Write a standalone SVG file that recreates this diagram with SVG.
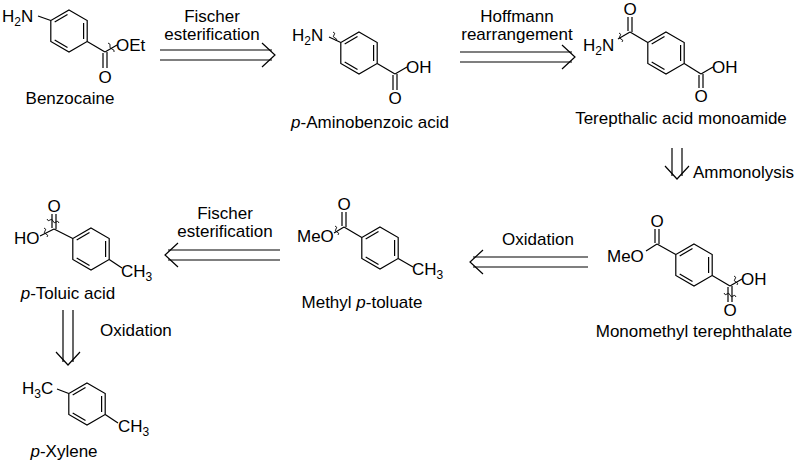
<svg xmlns="http://www.w3.org/2000/svg" width="807" height="468" viewBox="0 0 807 468">
<style>
text{font-family:"Liberation Sans",Arial,sans-serif;fill:#000}
.l{font-size:17px;text-anchor:middle}
.a{font-size:17px}
.c{text-anchor:middle}
.s{font-size:12px}
line,path,polyline{stroke:#000;stroke-width:1.2;fill:none}
.w{stroke-width:0.9}
</style>
<defs>
<g id="ring">
<polygon points="0,-21 18.2,-10.5 18.2,10.5 0,21 -18.2,10.5 -18.2,-10.5" fill="none" stroke="#000" stroke-width="1.2"/>
<line x1="-1.5" y1="-16.5" x2="-14.3" y2="-9"/>
<line x1="14.6" y1="-8" x2="14.6" y2="8"/>
<line x1="-14.3" y1="9" x2="-1.5" y2="16.5"/>
</g>
</defs>
<rect width="807" height="468" fill="#fff"/>
<g id="benzocaine">
<use href="#ring" x="69" y="31"/>
<text x="2" y="22" class="a">H<tspan class="s" dy="4">2</tspan><tspan dy="-4">N</tspan></text>
<line x1="38" y1="16" x2="50.8" y2="20.5"/>
<line x1="87.2" y1="41.5" x2="105" y2="52"/>
<line x1="103" y1="53" x2="103" y2="68"/><line x1="107" y1="52" x2="107" y2="68"/>
<text x="105" y="83" class="a c">O</text>
<line x1="105" y1="52" x2="117" y2="45"/>
<path class="w" d="M108,43 q3,1 2,3 q-1,2 2,3 q3,1 2,3"/>
<text x="116" y="51" class="a">OEt</text>
<text x="70" y="104" class="l">Benzocaine</text>
</g>
<g id="paba">
<use href="#ring" x="359" y="53"/>
<text x="292" y="41" class="a">H<tspan class="s" dy="4">2</tspan><tspan dy="-4">N</tspan></text>
<line x1="329" y1="37" x2="340.8" y2="42.5"/>
<path class="w" d="M333,32 q3,1 1,3 q-2,2 1,3 q3,1 1,3"/>
<line x1="377.2" y1="63.5" x2="395" y2="74"/>
<line x1="393" y1="75" x2="393" y2="90"/><line x1="397" y1="74" x2="397" y2="90"/>
<text x="395" y="104" class="a c">O</text>
<line x1="395" y1="74" x2="407" y2="67"/>
<text x="406" y="73" class="a">OH</text>
<text x="370" y="128" class="l"><tspan font-style="italic">p</tspan>-Aminobenzoic acid</text>
</g>
<g id="tam">
<use href="#ring" x="666" y="53"/>
<line x1="647.8" y1="42.5" x2="630" y2="32"/>
<line x1="628" y1="31" x2="628" y2="17"/><line x1="632" y1="32" x2="632" y2="17"/>
<text x="630" y="15" class="a c">O</text>
<line x1="630" y1="32" x2="618" y2="39"/>
<path class="w" d="M619,33 q3,1 1,3 q-2,2 1,3 q3,1 1,3"/>
<text x="583" y="51" class="a">H<tspan class="s" dy="4">2</tspan><tspan dy="-4">N</tspan></text>
<line x1="684.2" y1="63.5" x2="701" y2="74"/>
<line x1="699" y1="75" x2="699" y2="88"/><line x1="703" y1="74" x2="703" y2="88"/>
<text x="701" y="102" class="a c">O</text>
<line x1="701" y1="74" x2="713" y2="67"/>
<text x="712" y="73" class="a">OH</text>
<text x="681" y="124" class="l">Terepthalic acid monoamide</text>
</g>
<g id="mmt">
<use href="#ring" x="694" y="265"/>
<line x1="675.8" y1="254.5" x2="657" y2="244"/>
<line x1="655" y1="243" x2="655" y2="229"/><line x1="659" y1="244" x2="659" y2="229"/>
<text x="657" y="227" class="a c">O</text>
<line x1="657" y1="244" x2="646" y2="251"/>
<text x="607" y="262" class="a">MeO</text>
<line x1="712.2" y1="275.5" x2="730" y2="286"/>
<line x1="728" y1="287" x2="728" y2="302"/><line x1="732" y1="286" x2="732" y2="302"/>
<text x="730" y="316" class="a c">O</text>
<line x1="730" y1="286" x2="742" y2="279"/>
<path class="w" d="M734,276 q3,1 1,3 q-2,2 1,3 q3,1 1,3"/>
<path class="w" d="M724,293 q1,3 3,1 q2,-2 3,1 q1,3 3,1 q2,-2 3,1"/>
<text x="741" y="285" class="a">OH</text>
<text x="694" y="337" class="l">Monomethyl terephthalate</text>
</g>
<g id="mpt">
<use href="#ring" x="380" y="248"/>
<line x1="361.8" y1="237.5" x2="344" y2="227"/>
<line x1="342" y1="226" x2="342" y2="212"/><line x1="346" y1="227" x2="346" y2="212"/>
<text x="344" y="210" class="a c">O</text>
<line x1="344" y1="227" x2="334" y2="233"/>
<path class="w" d="M335,226 q3,1 1,3 q-2,2 1,3 q3,1 1,3"/>
<text x="297" y="242" class="a">MeO</text>
<line x1="398.2" y1="258.5" x2="413" y2="267"/>
<text x="412" y="275" class="a">CH<tspan class="s" dy="4">3</tspan></text>
<text x="362" y="308" class="l">Methyl <tspan font-style="italic">p</tspan>-toluate</text>
</g>
<g id="ptoluic">
<use href="#ring" x="91" y="249"/>
<line x1="72.8" y1="238.5" x2="54" y2="229"/>
<line x1="52" y1="228" x2="52" y2="214"/><line x1="56" y1="229" x2="56" y2="214"/>
<text x="54" y="212" class="a c">O</text>
<line x1="54" y1="229" x2="40" y2="236"/>
<path class="w" d="M44,228 q3,1 1,3 q-2,2 1,3 q3,1 1,3"/>
<path class="w" d="M47,219 q1,3 3,1 q2,-2 3,1 q1,3 3,1 q2,-2 3,1"/>
<text x="14" y="244" class="a">HO</text>
<line x1="109.2" y1="259.5" x2="122" y2="268"/>
<text x="121" y="277" class="a">CH<tspan class="s" dy="4">3</tspan></text>
<text x="68" y="299" class="l"><tspan font-style="italic">p</tspan>-Toluic acid</text>
</g>
<g id="pxylene">
<use href="#ring" x="87" y="404"/>
<text x="22" y="394" class="a">H<tspan class="s" dy="4">3</tspan><tspan dy="-4">C</tspan></text>
<line x1="57" y1="389" x2="68.8" y2="393.5"/>
<line x1="105.2" y1="414.5" x2="118" y2="423"/>
<text x="118" y="432" class="a">CH<tspan class="s" dy="4">3</tspan></text>
<text x="64" y="457" class="l"><tspan font-style="italic">p</tspan>-Xylene</text>
</g>
<g id="connectors">
<line x1="160" y1="50" x2="272" y2="50"/><line x1="160" y1="60" x2="272" y2="60"/>
<polyline points="262,43 275,55 262,67"/>
<text x="212" y="22" class="l">Fischer</text><text x="212" y="40" class="l">esterification</text>
<line x1="460" y1="52" x2="572" y2="52"/><line x1="460" y1="62" x2="572" y2="62"/>
<polyline points="562,45 575,57 562,69"/>
<text x="517" y="22" class="l">Hoffmann</text><text x="517" y="40" class="l">rearrangement</text>
<line x1="672" y1="148" x2="672" y2="176"/><line x1="682" y1="148" x2="682" y2="176"/>
<polyline points="665,166 677,179 689,166"/>
<text x="693" y="178" class="a">Ammonolysis</text>
<line x1="473" y1="257" x2="588" y2="257"/><line x1="473" y1="267" x2="588" y2="267"/>
<polyline points="483,250 470,262 483,274"/>
<text x="538" y="245" class="l">Oxidation</text>
<line x1="168" y1="250" x2="280" y2="250"/><line x1="168" y1="260" x2="280" y2="260"/>
<polyline points="178,243 165,255 178,267"/>
<text x="225" y="219" class="l">Fischer</text><text x="225" y="237" class="l">esterification</text>
<line x1="63" y1="310" x2="63" y2="362"/><line x1="73" y1="310" x2="73" y2="362"/>
<polyline points="56,352 68,365 80,352"/>
<text x="100" y="336" class="a">Oxidation</text>
</g>
</svg>
